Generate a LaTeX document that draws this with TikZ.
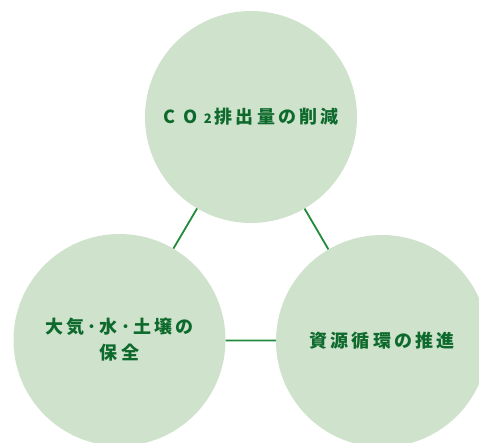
\documentclass[tikz,border=0pt]{standalone}
\usepackage{fontspec}
\IfFontExistsTF{Noto Sans CJK JP Black}
  {\newfontfamily\jp[LetterSpace=17]{Noto Sans CJK JP Black}}
  {\newfontfamily\jp[LetterSpace=17]{Noto Sans CJK JP Bold}}
\definecolor{circfill}{HTML}{CFE2CC}
\definecolor{linkgreen}{HTML}{1F8B3B}
\definecolor{textgreen}{HTML}{0E6A2C}
\tikzset{
  bubble/.style={circle, fill=circfill, minimum size=212pt, inner sep=0pt,
    text=textgreen, font=\jp\fontsize{18}{26}\selectfont, align=center},
  link/.style={draw=linkgreen, line width=1.8pt}
}
\begin{document}
\begin{tikzpicture}[x=1pt,y=-1pt]
\useasboundingbox (0,0) rectangle (479,443);
\clip (0,0) rectangle (479,443);
\node[bubble] (top) at (251,117) {C\hspace{8pt}O\hspace{6pt}{\fontsize{13}{13}\selectfont 2}\hspace{3pt}排出量の削減};
\node[bubble] (left) at (119.5,340) {大気･水･土壌の\\保全};
\node[bubble] (right) at (382,341) {資源循環の推進};
\draw[link] (top) -- (left);
\draw[link] (top) -- (right);
\draw[link] (left) -- (right);
\end{tikzpicture}
\end{document}
